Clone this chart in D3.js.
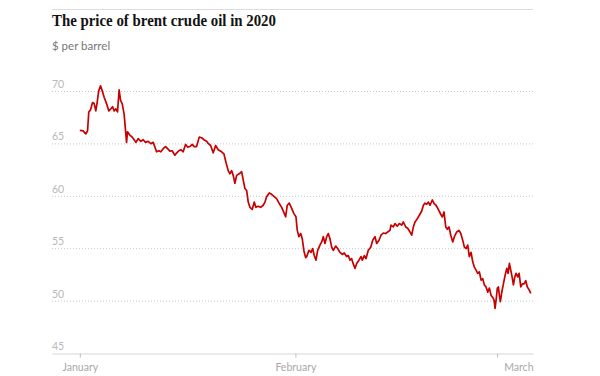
<!DOCTYPE html>
<html>
<head>
<meta charset="utf-8">
<script src="https://cdn.jsdelivr.net/npm/d3@7"></script>
<style>
  body { margin: 0; background: #fff; }
  svg { display: block; }
</style>
</head>
<body>
<div id="chart"></div>
<script>
/* global d3 */

// days after 1 Jan 2020 (fractional, intraday) and brent price in $
var days = [
  0.00, 0.47, 0.86, 1.11, 1.29, 1.54, 1.83, 2.06, 2.30, 2.49, 2.73, 2.98, 3.21, 3.50, 3.84,
  4.17, 4.46, 4.71, 4.94, 5.18, 5.42, 5.65, 5.86, 6.09, 6.37, 6.58, 6.72, 6.86, 7.19, 7.53,
  7.81, 8.06, 8.39, 8.78, 9.11, 9.45, 9.83, 10.22, 10.55, 10.79, 11.04, 11.37, 11.65, 11.99,
  12.33, 12.62, 12.95, 13.28, 13.67, 13.91, 14.24, 14.53, 14.86, 15.21, 15.50, 15.83, 16.16,
  16.45, 16.79, 17.17, 17.51, 17.84, 18.23, 18.46, 18.81, 19.18, 19.53, 19.90, 20.39, 20.72,
  21.01, 21.34, 21.58, 21.83, 22.06, 22.30, 22.55, 22.92, 23.27, 23.50, 23.74, 23.99, 24.22,
  24.46, 24.79, 25.08, 25.32, 25.65, 26.00, 26.37, 26.62, 26.86, 27.24, 27.58, 27.91, 28.30,
  28.68, 29.02, 29.35, 29.60, 29.83, 30.12, 30.46, 30.79, 31.08, 31.27, 31.51, 31.76, 31.99,
  32.23, 32.47, 32.62, 32.95, 33.24, 33.48, 33.71, 33.96, 34.20, 34.53, 34.78, 35.01, 35.25,
  35.50, 35.73, 35.97, 36.22, 36.45, 36.79, 37.08, 37.41, 37.74, 38.03, 38.37, 38.60, 38.85,
  39.09, 39.32, 39.57, 39.81, 40.14, 40.43, 40.62, 40.91, 41.15, 41.48, 41.83, 42.12, 42.45,
  42.69, 43.02, 43.31, 43.64, 43.99, 44.27, 44.60, 44.75, 45.08, 45.32, 45.65, 45.94, 46.29,
  46.52, 46.86, 47.15, 47.48, 47.73, 47.96, 48.20, 48.53, 48.82, 49.17, 49.40, 49.64, 49.88,
  50.12, 50.36, 50.69, 50.94, 51.22, 51.55, 51.90, 52.13, 52.37, 52.62, 52.85, 53.09, 53.34,
  53.63, 53.86, 54.20, 54.53, 54.78, 55.06, 55.30, 55.54, 55.78, 56.01, 56.26, 56.50, 56.73,
  56.98, 57.22, 57.45, 57.70, 57.94, 58.17, 58.42, 58.66, 58.89, 59.14, 59.38, 59.57, 59.71,
  59.86, 60.04, 60.19, 60.33, 60.47, 60.68, 60.91, 61.15, 61.40, 61.58, 61.77, 61.97, 62.16,
  62.35, 62.55, 62.73, 62.98, 63.17, 63.41, 63.64, 63.88, 64.13, 64.35, 64.60, 64.85
];
var prices = [
  66.24, 66.20, 65.90, 66.20, 68.00, 68.20, 68.90, 68.80, 68.10, 68.90, 70.05, 70.50, 70.05, 69.40, 68.80,
  68.10, 68.30, 68.50, 68.10, 68.30, 68.00, 70.10, 69.10, 68.80, 67.80, 66.20, 65.10, 66.10, 65.80, 65.60,
  65.35, 65.10, 65.45, 65.20, 65.35, 65.10, 65.20, 64.97, 65.10, 64.65, 64.20, 64.30, 64.20, 64.50,
  64.70, 64.50, 64.27, 64.30, 63.86, 64.08, 64.30, 64.40, 64.20, 64.90, 64.65, 64.70, 64.90,
  64.70, 64.70, 65.60, 65.54, 65.35, 65.20, 65.00, 64.80, 64.10, 64.80, 64.40, 64.20, 64.00,
  63.20, 62.40, 62.10, 62.40, 61.95, 61.20, 61.95, 62.10, 62.30, 61.50, 60.70, 60.50, 59.40,
  58.90, 58.70, 59.40, 58.90, 59.00, 58.90, 59.10, 59.40, 59.90, 60.27, 60.14, 59.95, 59.73,
  59.26, 58.90, 58.40, 58.00, 59.10, 59.30, 58.80, 58.30, 58.00, 56.70, 56.10, 56.40, 55.90,
  54.74, 54.10, 54.20, 54.80, 54.60, 54.97, 54.30, 53.86, 54.80, 55.30, 55.60, 56.10, 55.45,
  56.10, 56.40, 55.90, 55.10, 54.80, 55.20, 54.97, 54.60, 54.40, 54.55, 54.20, 54.30, 53.86,
  54.00, 53.50, 53.07, 53.55, 53.86, 54.20, 53.86, 54.30, 54.00, 54.80, 55.10, 55.76, 56.10,
  55.45, 55.76, 56.24, 56.45, 56.40, 56.55, 56.70, 57.20, 57.03, 57.35, 57.10, 57.35, 57.20,
  57.50, 57.03, 56.90, 56.55, 56.24, 57.03, 57.50, 57.80, 58.14, 58.55, 59.10, 59.30, 59.20,
  59.40, 59.10, 59.60, 59.26, 59.10, 58.70, 58.24, 57.98, 58.46, 57.03, 56.80, 57.03, 56.24,
  55.60, 56.10, 56.55, 56.70, 56.40, 55.76, 55.10, 54.97, 55.30, 54.20, 54.60, 53.70, 53.20,
  52.90, 52.60, 52.75, 51.95, 52.10, 51.50, 51.30, 50.80, 51.20, 50.50, 50.30, 50.05, 49.26,
  50.05, 51.20, 51.30, 50.50, 49.90, 50.80, 51.60, 52.40, 53.07, 52.60, 53.55, 52.90, 52.26,
  51.50, 52.26, 52.60, 52.26, 52.60, 51.30, 51.60, 51.60, 51.90, 51.30, 51.05, 50.70
];

var yTicks = [45, 50, 55, 60, 65, 70];
var monthTicks = ['2020-01-01', '2020-02-01', '2020-03-01'];
var monthNames = ['January', 'February', 'March'];

var title = 'The price of brent crude oil in 2020';
var subtitle = '$ per barrel';

var width = 600,
  height = 376,
  margin = { top: 91, right: 67, bottom: 23, left: 52 };

var start = new Date(2020, 0, 1);
function dayToDate(d) {
  return new Date(start.getTime() + d * 864e5);
}

var data = days.map(function (d, i) {
  return { date: dayToDate(d), price: prices[i] };
});

var xScale = d3.scaleTime()
  .domain([new Date(2019, 11, 28, 0), new Date(2020, 2, 6, 4)])
  .range([margin.left, width - margin.right]);

var yScale = d3.scaleLinear()
  .domain([45, 70])
  .range([height - margin.bottom, margin.top]);

var svg = d3.select('#chart').append('svg')
  .attr('width', width)
  .attr('height', height);

// top rule + headings
svg.append('line')
  .attr('x1', margin.left).attr('x2', width - margin.right)
  .attr('y1', 9.5).attr('y2', 9.5)
  .attr('stroke', '#dcdcdc')
  .attr('stroke-width', 1);

svg.append('text')
  .attr('x', margin.left)
  .attr('y', 26)
  .attr('font-family', '"Liberation Serif", "DejaVu Serif", serif')
  .attr('font-weight', 'bold')
  .attr('font-size', 16)
  .attr('fill', '#121212')
  .attr('textLength', 224)
  .attr('lengthAdjust', 'spacingAndGlyphs')
  .text(title);

svg.append('text')
  .attr('x', margin.left)
  .attr('y', 50)
  .attr('font-family', 'Lato, "Open Sans", sans-serif')
  .attr('font-size', 11.5)
  .attr('fill', '#767676')
  .text(subtitle);

// GRIDLINES
var grid = svg.append('g').attr('class', 'grid');
grid.selectAll('line')
  .data(yTicks.filter(function (t) { return t !== 45; }))
  .enter().append('line')
  .attr('x1', margin.left)
  .attr('x2', width - margin.right)
  .attr('y1', function (d) { return yScale(d) + 0.5; })
  .attr('y2', function (d) { return yScale(d) + 0.5; })
  .attr('stroke', '#c8c8c8')
  .attr('stroke-width', 1)
  .attr('stroke-dasharray', '1,2');

grid.selectAll('text')
  .data(yTicks)
  .enter().append('text')
  .attr('x', margin.left)
  .attr('y', function (d) { return yScale(d) - 3; })
  .attr('font-family', 'Lato, "Open Sans", sans-serif')
  .attr('font-size', 10.5)
  .attr('fill', '#b8b8b8')
  .text(function (d) { return d; });

// X AXIS
var xAxis = d3.axisBottom(xScale)
  .tickValues(monthTicks.map(function (s) { return d3.timeParse('%Y-%m-%d')(s); }))
  .tickSize(4)
  .tickSizeOuter(0)
  .tickPadding(6)
  .tickFormat(function (d, i) { return monthNames[i]; });

var gx = svg.append('g')
  .attr('transform', 'translate(0,' + (height - margin.bottom + 0.5) + ')')
  .call(xAxis);

gx.select('.domain')
  .attr('stroke', '#d6d6d6');
gx.selectAll('.tick line')
  .attr('stroke', '#bdbdbd');
gx.selectAll('.tick text')
  .attr('font-family', 'Lato, "Open Sans", sans-serif')
  .attr('font-size', 10.5)
  .attr('fill', '#a8a8a8');

// last label sits flush with the right end of the axis
gx.selectAll('.tick text')
  .filter(function (d, i) { return i === monthTicks.length - 1; })
  .attr('text-anchor', 'end')
  .attr('x', function (d) { return (width - margin.right) - xScale(d); });

// THE LINE
var line = d3.line()
  .x(function (d) { return xScale(d.date); })
  .y(function (d) { return yScale(d.price); });

svg.append('path')
  .datum(data)
  .attr('fill', 'none')
  .attr('stroke', '#c70000')
  .attr('stroke-width', 1.7)
  .attr('stroke-linejoin', 'round')
  .attr('d', line);
</script>
</body>
</html>
